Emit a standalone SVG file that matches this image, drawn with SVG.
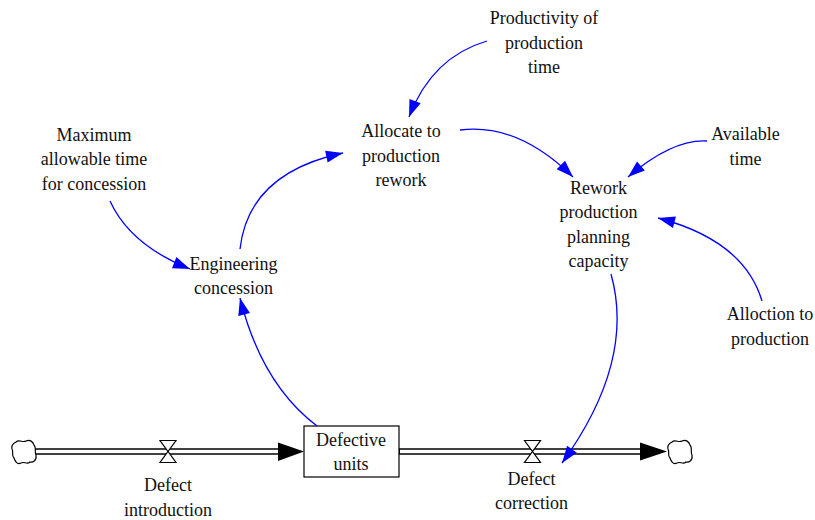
<svg xmlns="http://www.w3.org/2000/svg" width="815" height="520" viewBox="0 0 815 520">
  <style>
    .lbl { font-family: "Liberation Serif", "Times New Roman", serif; font-size: 18px; fill: #111; text-anchor: middle; }
    .link { fill: none; stroke: #0000ff; stroke-width: 1.3; marker-end: url(#bluehead); }
    .pipe-outer { fill: none; stroke: #000; stroke-width: 6.5; }
    .pipe-inner { fill: none; stroke: #fff; stroke-width: 3.5; }
    .valve { fill: #fff; stroke: #000; stroke-width: 1.2; stroke-linejoin: miter; }
    .cloud { fill: #fff; stroke: #000; stroke-width: 1.2; }
    .stock { fill: #fff; stroke: #000; stroke-width: 1.2; }
  </style>
  <defs>
    <marker id="bluehead" markerUnits="userSpaceOnUse" markerWidth="18" markerHeight="12" refX="17" refY="6" orient="auto" overflow="visible">
      <path d="M0,0 L17,6 L0,12 Z" fill="#0000ff"/>
    </marker>
    <path id="cloudShape" d="M -8,-10 C -5,-13 -1,-9 2,-11 C 6,-13 9,-10 10,-7 C 13,-4 10,0 12,3 C 13,8 9,11 6,10 C 3,13 0,9 -3,11 C -7,13 -9,9 -10,6 C -13,3 -10,0 -12,-3 C -13,-7 -10,-9 -8,-10 Z"/>
    <g id="valveShape">
      <path d="M -8,-11 L 8,-11 L 0,0 Z M -8,11 L 8,11 L 0,0 Z"/>
    </g>
  </defs>

  <rect width="815" height="520" fill="#fff"/>

  <!-- material flows: source cloud -> stock -> sink cloud -->
  <g id="flows">
    <line class="pipe-outer" x1="34" y1="451.5" x2="282" y2="451.5"/>
    <line class="pipe-inner" x1="33" y1="451.5" x2="282" y2="451.5"/>
    <path d="M278,442.5 L304,451.5 L278,461 Z" fill="#000"/>
    <line class="pipe-outer" x1="399" y1="451.5" x2="644" y2="451.5"/>
    <line class="pipe-inner" x1="400" y1="451.5" x2="644" y2="451.5"/>
    <path d="M640,442.5 L667,451.5 L640,460.5 Z" fill="#000"/>
  </g>

  <g id="source-cloud"><use href="#cloudShape" class="cloud" transform="translate(24,452)"/></g>
  <g id="sink-cloud"><use href="#cloudShape" class="cloud" transform="translate(680,452)"/></g>

  <g id="defect-introduction">
    <use href="#valveShape" class="valve" transform="translate(168,451.5)"/>
    <text class="lbl" x="168" y="491">Defect</text>
    <text class="lbl" x="168" y="515.5">introduction</text>
  </g>

  <g id="defect-correction">
    <use href="#valveShape" class="valve" transform="translate(532.5,451.5)"/>
    <text class="lbl" x="531.5" y="485">Defect</text>
    <text class="lbl" x="531.5" y="508.5">correction</text>
  </g>

  <g id="defective-units">
    <rect class="stock" x="304" y="426" width="95" height="51"/>
    <text class="lbl" x="351" y="446">Defective</text>
    <text class="lbl" x="351" y="470">units</text>
  </g>

  <!-- auxiliary variables -->
  <g id="productivity-of-production-time">
    <text class="lbl" x="544" y="24">Productivity of</text>
    <text class="lbl" x="544" y="48.5">production</text>
    <text class="lbl" x="544" y="73">time</text>
  </g>

  <g id="allocate-to-production-rework">
    <text class="lbl" x="401" y="137">Allocate to</text>
    <text class="lbl" x="401" y="161.5">production</text>
    <text class="lbl" x="401" y="186">rework</text>
  </g>

  <g id="maximum-allowable-time">
    <text class="lbl" x="94" y="140.5">Maximum</text>
    <text class="lbl" x="94" y="165">allowable time</text>
    <text class="lbl" x="94" y="189.5">for concession</text>
  </g>

  <g id="engineering-concession">
    <text class="lbl" x="233.5" y="270">Engineering</text>
    <text class="lbl" x="233.5" y="294">concession</text>
  </g>

  <g id="available-time">
    <text class="lbl" x="745.5" y="140">Available</text>
    <text class="lbl" x="745.5" y="164.5">time</text>
  </g>

  <g id="rework-production-planning-capacity">
    <text class="lbl" x="598.5" y="194">Rework</text>
    <text class="lbl" x="598.5" y="218.3">production</text>
    <text class="lbl" x="598.5" y="242.6">planning</text>
    <text class="lbl" x="598.5" y="267">capacity</text>
  </g>

  <g id="alloction-to-production">
    <text class="lbl" x="770" y="320">Alloction to</text>
    <text class="lbl" x="770" y="344.5">production</text>
  </g>

  <!-- causal links -->
  <g id="connectors">
    <path class="link" d="M487,41 Q432,57 409,117"/>
    <path class="link" d="M460,130 Q517.5,122.5 573,177"/>
    <path class="link" d="M110,201 Q130,245 190,269"/>
    <path class="link" d="M240,249 Q248.5,173 343,153"/>
    <path class="link" d="M317,426 Q261.5,384 240,298"/>
    <path class="link" d="M707,141 Q672.5,139 628,177"/>
    <path class="link" d="M762,301 Q744,240.5 658,218"/>
    <path class="link" d="M611,274 Q635.5,361.5 562,463"/>
  </g>
</svg>
